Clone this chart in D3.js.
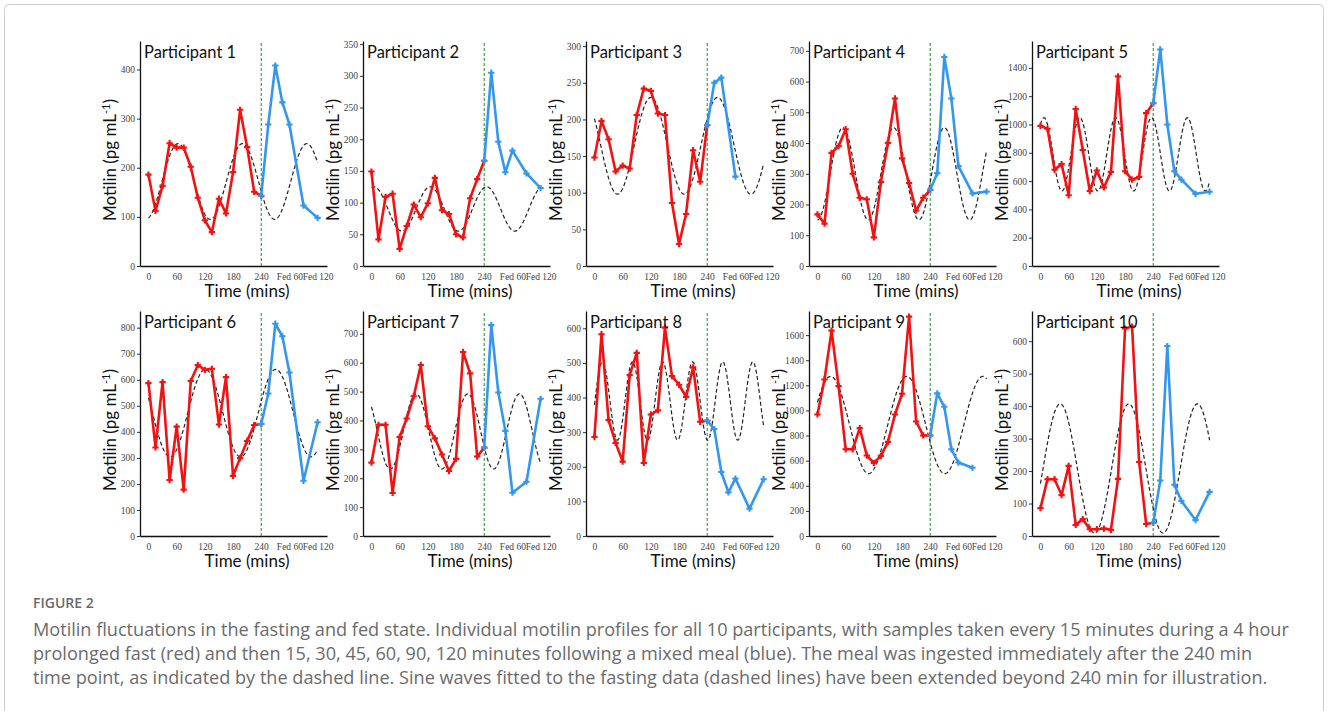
<!DOCTYPE html>
<html>
<head>
<meta charset="utf-8">
<script src="https://cdn.jsdelivr.net/npm/d3@7"></script>
<style>
  html, body { margin: 0; padding: 0; background: #fff; }
  svg { display: block; }
</style>
</head>
<body>
<svg id="chart" width="1328" height="711"></svg>
<script>
// ---------------- DATA ----------------
const participants = ["Participant 1","Participant 2","Participant 3","Participant 4","Participant 5",
                      "Participant 6","Participant 7","Participant 8","Participant 9","Participant 10"];
const fastTimes = [0,15,30,45,60,75,90,105,120,135,150,165,180,195,210,225,240];
const fedTimes  = [240,255,270,285,300,330,360];
const xTickValues = [0,60,120,180,240,300,360];
const xTickLabels = ["0","60","120","180","240","Fed 60","Fed 120"];

const fast1  = [186,112,163,250,241,241,202,139,93,69,137,107,191,318,242,151,143];
const fed1   = [143,288,408,333,288,123,98];
const fast2  = [149,42,109,114,27,63,97,77,99,139,88,82,50,45,107,137,166];
const fed2   = [166,305,196,148,182,146,123];
const fast3  = [148,198,173,129,137,133,206,242,239,208,206,86,30,71,158,115,192];
const fed3   = [192,250,257,null,122,null,null];
const fast4  = [168,138,368,390,445,300,222,217,93,273,400,545,350,270,180,222,248];
const fed4   = [248,302,680,545,325,236,242];
const fast5  = [990,970,680,720,500,1110,820,530,675,555,665,1340,670,610,630,1080,1150];
const fed5   = [1150,1530,1000,670,610,510,525];
const fast6  = [587,340,591,215,420,178,595,656,638,642,428,610,231,299,365,426,430];
const fed6   = [430,547,815,767,628,212,437];
const fast7  = [254,385,385,149,343,407,484,592,380,338,282,225,267,637,563,275,306];
const fed7   = [306,730,497,364,150,188,475];
const fast8  = [286,583,335,269,215,465,529,211,351,363,602,462,437,402,487,330,333];
const fed8   = [333,309,185,126,166,79,164];
const fast9  = [968,1247,1636,1194,691,691,859,641,582,638,750,968,1133,1747,912,801,801];
const fed9   = [801,1136,1029,691,585,543,null];
const fast10 = [86,175,175,126,216,34,52,21,21,23,19,176,639,645,228,37,41];
const fed10  = [41,171,585,158,108,49,136];

const fastSeries = [fast1,fast2,fast3,fast4,fast5,fast6,fast7,fast8,fast9,fast10];
const fedSeries  = [fed1,fed2,fed3,fed4,fed5,fed6,fed7,fed8,fed9,fed10];

const yMax  = [458,355,307,732,1590,864,779,650,1792,693];
const yStep = [100,50,50,100,200,100,100,100,200,100];
const yTop  = [400,350,300,700,1400,800,700,600,1600,600];

// fitted sine (cosinor) parameters
const sineMesor  = [172,90,164,300,789,472,362,390,884,208];
const sineAmp    = [77,35,66,150,259,168,130,113,387,199];
const sinePeriod = [137,120,142,108,76.3,150,110,64,162,146];
const sinePeak   = [63,125,120,54,7.5,121,95,17,28,42];

const captionTitle = "FIGURE 2";
const captionLines = [
  "Motilin fluctuations in the fasting and fed state. Individual motilin profiles for all 10 participants, with samples taken every 15 minutes during a 4 hour",
  "prolonged fast (red) and then 15, 30, 45, 60, 90, 120 minutes following a mixed meal (blue). The meal was ingested immediately after the 240 min",
  "time point, as indicated by the dashed line. Sine waves fitted to the fasting data (dashed lines) have been extended beyond 240 min for illustration."
];

// ---------------- LAYOUT ----------------
const svg = d3.select("#chart");
const colX = [140, 363, 586, 809, 1032];
const rowTop = [41, 311];
const plotH = 225, plotW = 187;
const RED = "#f21212", BLUE = "#3497ef";

svg.append("rect").attr("x",4.5).attr("y",4.5).attr("width",1319).attr("height",730)
  .attr("rx",4).attr("fill","none").attr("stroke","#cfcfcf").attr("stroke-width",1);

const x = d3.scaleLinear().domain([-18, 380]).range([0, plotW]);
const sineTimes = d3.range(0, 360.5, 1);

participants.forEach((name, i) => {
  const col = i % 5, row = Math.floor(i / 5);
  const g = svg.append("g").attr("transform", `translate(${colX[col]},${rowTop[row]})`);
  const y = d3.scaleLinear().domain([0, yMax[i]]).range([plotH, 0]);

  // y axis
  const yAxis = d3.axisLeft(y).tickValues(d3.range(0, yTop[i] + 1, yStep[i]))
    .tickFormat(d3.format("d"))
    .tickSize(3).tickSizeOuter(0).tickPadding(2);
  const ya = g.append("g").call(yAxis);
  ya.select(".domain").attr("stroke","#111").attr("stroke-width",1.3);
  ya.selectAll(".tick line").attr("stroke","#333");
  ya.selectAll(".tick text").attr("font-family","'Liberation Serif', serif")
    .attr("font-size",9.5).attr("fill","#444");

  // x axis
  const xAxis = d3.axisBottom(x).tickValues(xTickValues)
    .tickFormat((d, k) => xTickLabels[k]).tickSize(0).tickSizeOuter(0).tickPadding(7);
  const xa = g.append("g").attr("transform", `translate(0,${plotH})`).call(xAxis);
  xa.select(".domain").attr("stroke","#111").attr("stroke-width",1.3);
  xa.selectAll(".tick text").attr("font-family","'Liberation Serif', serif")
    .attr("font-size",9.5).attr("fill","#444");

  // meal line at 240
  g.append("line").attr("x1", x(240)).attr("x2", x(240)).attr("y1", plotH).attr("y2", 0)
    .attr("stroke","#2e9a3a").attr("stroke-width",1.1).attr("stroke-dasharray","3,2");

  // sine fit (dashed)
  const sineLine = d3.line()
    .x(t => x(t))
    .y(t => y(sineMesor[i] + sineAmp[i] * Math.cos(2 * Math.PI * (t - sinePeak[i]) / sinePeriod[i])));
  g.append("path").datum(sineTimes).attr("d", sineLine)
    .attr("fill","none").attr("stroke","#222").attr("stroke-width",1.2).attr("stroke-dasharray","4,2.5");

  const line = d3.line().defined(d => d.v != null).x(d => x(d.t)).y(d => y(d.v));
  const fast = fastTimes.map((t, k) => ({t, v: fastSeries[i][k]}));
  const fed = fedTimes.map((t, k) => ({t, v: fedSeries[i][k]})).filter(d => d.v != null);

  const sym = d3.symbol().type(d3.symbolCross).size(22);

  g.append("path").datum(fast).attr("d", line).attr("fill","none")
    .attr("stroke", RED).attr("stroke-width",2.6).attr("stroke-linejoin","round");
  g.selectAll(".pf").data(fast).join("path").attr("class","pf")
    .attr("transform", d => `translate(${x(d.t)},${y(d.v)})`).attr("d", sym).attr("fill", RED);

  g.append("path").datum(fed).attr("d", line).attr("fill","none")
    .attr("stroke", BLUE).attr("stroke-width",2.6).attr("stroke-linejoin","round");
  g.selectAll(".pb").data(fed).join("path").attr("class","pb")
    .attr("transform", d => `translate(${x(d.t)},${y(d.v)})`).attr("d", sym).attr("fill", BLUE);

  // labels
  g.append("text").attr("x", 4).attr("y", 16.5).text(name)
    .attr("font-family","Lato, 'Open Sans', sans-serif").attr("font-size",16.5).attr("fill","#111");

  g.append("text").attr("x", 107).attr("y", 256).attr("text-anchor","middle")
    .attr("font-family","Lato, 'Open Sans', sans-serif").attr("font-size",17).attr("fill","#111")
    .text("Time (mins)");

  const yl = g.append("text").attr("transform", `translate(-24,${119}) rotate(-90)`)
    .attr("text-anchor","middle")
    .attr("font-family","Lato, 'Open Sans', sans-serif").attr("font-size",17).attr("fill","#111");
  yl.append("tspan").text("Motilin (pg mL");
  yl.append("tspan").attr("dy",-6).attr("font-size",11).text("-1");
  yl.append("tspan").attr("dy",6).text(")");
});

// ---------------- CAPTION ----------------
svg.append("text").attr("x",33).attr("y",608).text(captionTitle)
  .attr("font-family","'Open Sans', sans-serif").attr("font-weight",600)
  .attr("font-size",14).attr("fill","#6a6a6a");

const capFont = 100;
const probe = svg.append("text").attr("font-family","'Open Sans', sans-serif")
  .attr("font-size",capFont).text(captionLines[0]);
const w0 = probe.node().getComputedTextLength();
probe.remove();
const capSize = capFont * 1257 / w0;
captionLines.forEach((ln, k) => {
  svg.append("text").attr("x",33).attr("y",635.5 + k * 24.3).text(ln)
    .attr("font-family","'Open Sans', sans-serif").attr("font-size",capSize).attr("fill","#6b6b6b");
});
</script>
</body>
</html>
